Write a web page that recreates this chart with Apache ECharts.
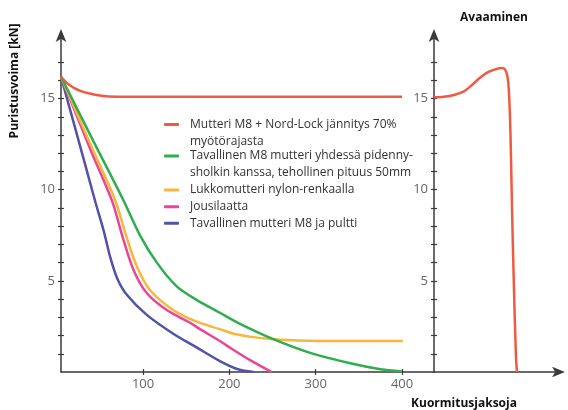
<!DOCTYPE html>
<html><head><meta charset="utf-8">
<script src="https://cdn.jsdelivr.net/npm/echarts@6/dist/echarts.min.js"></script>
<style>html,body{margin:0;padding:0;background:#fff}#c{width:568px;height:410px}</style>
</head><body><div id="c"></div>
<script>
// ---- data ----
const seriesNames = [
  'Mutteri M8 + Nord-Lock jännitys 70% myötörajasta',
  'Tavallinen M8 mutteri yhdessä pidennysholkin kanssa, tehollinen pituus 50mm',
  'Lukkomutteri nylon-renkaalla',
  'Jousilaatta',
  'Tavallinen mutteri M8 ja pultti'
];
const legendLabels = [
  'Mutteri M8 + Nord-Lock jännitys 70%\nmyötörajasta',
  'Tavallinen M8 mutteri yhdessä pidenny-\nsholkin kanssa, tehollinen pituus 50mm',
  'Lukkomutteri nylon-renkaalla',
  'Jousilaatta',
  'Tavallinen mutteri M8 ja pultti'
];
const xTickLabels = [100, 200, 300, 400];
const yTickLabels = [5, 10, 15];
const yMinorTicks = [1,2,3,4,5,6,7,8,9,10,11,12,13,14,15,16,17];

const nordLockX = [5, 12, 21, 29, 37, 48, 60, 80, 120, 400];
const nordLockY = [16.2, 15.85, 15.56, 15.4, 15.29, 15.18, 15.12, 15.1, 15.1, 15.1];
const sleeveX = [5, 40, 77, 96.5, 116, 139, 162, 189, 210, 251, 293.5, 340, 375, 400];
const sleeveY = [16.2, 12.9, 9.45, 7.5, 6.0, 4.7, 3.96, 3.25, 2.7, 1.8, 1.05, 0.48, 0.15, 0.03];
const nylonX = [5, 40, 67.5, 81, 92.7, 108, 135, 162, 189, 205, 230, 251, 290, 320, 401];
const nylonY = [16.2, 12.4, 9.45, 7.4, 5.8, 4.5, 3.4, 2.76, 2.35, 2.1, 1.9, 1.8, 1.72, 1.7, 1.7];
const springX = [5, 40, 64, 77, 89, 104, 127.5, 154.5, 166, 189, 197, 224, 249];
const springY = [16.2, 12.1, 9.4, 7.3, 5.6, 4.35, 3.4, 2.7, 2.35, 1.7, 1.45, 0.65, 0];
const plainX = [5, 30, 45, 55, 62, 70, 81, 104, 135, 162, 189, 210, 228];
const plainY = [16.2, 11.9, 9.3, 7.65, 6.3, 5.15, 4.25, 3.15, 2.1, 1.35, 0.6, 0.15, 0];
// opening (right panel), x in arbitrary panel units
const openX = [0, 10, 20, 30, 38, 46, 54, 62, 68, 71, 73.5, 75, 76.5, 78, 80, 82, 83];
const openY = [15.07, 15.1, 15.2, 15.4, 15.75, 16.15, 16.45, 16.62, 16.68, 16.6, 16.2, 15.3, 13, 9, 4.5, 0.8, 0];

const colors = ['#f15a40', '#2fae4e', '#f8b73a', '#ec4595', '#5252a8'];
// ---- chart ----
const zip = (xs, ys) => xs.map((x, i) => [x, ys[i]]);
const font = '"Open Sans", sans-serif';
const axisCol = '#3a3a3a';
const yMax = 18.6;

function yAxisPair(grid) {
  return [
    { type: 'value', gridIndex: grid, position: 'left', min: 0, max: yMax,
      axisLine: { show: true, lineStyle: { color: axisCol, width: 1.5 }, symbol: ['none', 'arrow'], symbolSize: [8, 13], symbolOffset: [0, 4] },
      axisTick: { show: true, length: 3, customValues: yMinorTicks, lineStyle: { color: axisCol, width: 1.2 } },
      axisLabel: { customValues: yTickLabels, color: '#666', fontSize: 13, fontFamily: font, margin: 6 },
      splitLine: { show: false } },
    { type: 'value', gridIndex: grid, position: 'left', offset: 0, min: 0, max: yMax,
      axisLine: { show: false },
      axisTick: { show: true, inside: true, length: 3, customValues: yMinorTicks, lineStyle: { color: axisCol, width: 1.2 } },
      axisLabel: { show: false }, splitLine: { show: false } }
  ];
}

const series = [
  { x: nordLockX, y: nordLockY },
  { x: sleeveX, y: sleeveY },
  { x: nylonX, y: nylonY },
  { x: springX, y: springY },
  { x: plainX, y: plainY }
].map((s, i) => ({
  name: seriesNames[i], type: 'line', xAxisIndex: 0, yAxisIndex: 0,
  data: zip(s.x, s.y), showSymbol: false, smooth: 0.3,
  lineStyle: { color: colors[i], width: 2.5 }, itemStyle: { color: colors[i] }, z: 5 - i
}));
series.push({
  name: seriesNames[0], type: 'line', xAxisIndex: 2, yAxisIndex: 2,
  data: zip(openX, openY), showSymbol: false, smooth: 0.3,
  lineStyle: { color: colors[0], width: 2.5 }, itemStyle: { color: colors[0] }
});

const LH = 16.6;
const legendIconY = [124.5, 156, 190, 206.7, 223.3];
const legends = legendLabels.map((lab, i) => {
  const multi = lab.indexOf('\n') >= 0;
  return {
    show: true, orient: 'vertical', left: 164, top: legendIconY[i] - (multi ? 1.5 * LH : 0.5 * LH), padding: 0,
    data: [{ name: seriesNames[i], icon: 'roundRect', itemStyle: { color: colors[i] } }],
    itemWidth: 15, itemHeight: 3, selectedMode: false,
    formatter: () => (multi ? '\n' + lab : lab),
    textStyle: { color: '#333', fontSize: 12, fontFamily: font, lineHeight: LH, padding: [0, 0, 0, 6] }
  };
});

const option = {
  animation: false,
  backgroundColor: '#fff',
  grid: [
    { left: 61, top: 33, width: 373, height: 339 },
    { left: 434, top: 33, width: 127, height: 339 }
  ],
  xAxis: [
    { type: 'value', gridIndex: 0, min: 5, max: 437,
      axisLine: { show: true, onZero: false, lineStyle: { color: axisCol, width: 1.5 } },
      axisTick: { show: true, length: 3, customValues: xTickLabels, lineStyle: { color: axisCol, width: 1.2 } },
      axisLabel: { customValues: xTickLabels, color: '#666', fontSize: 13, fontFamily: font, margin: 6 },
      splitLine: { show: false } },
    { type: 'value', gridIndex: 0, min: 5, max: 437, position: 'bottom', offset: 0,
      axisLine: { show: false },
      axisTick: { show: true, inside: true, length: 3, customValues: xTickLabels, lineStyle: { color: axisCol, width: 1.2 } },
      axisLabel: { show: false }, splitLine: { show: false } },
    { type: 'value', gridIndex: 1, min: 0, max: 127,
      axisLine: { show: true, onZero: false, lineStyle: { color: axisCol, width: 1.5 }, symbol: ['none', 'arrow'], symbolSize: [8, 13], symbolOffset: [0, 4] },
      axisTick: { show: false }, axisLabel: { show: false }, splitLine: { show: false } }
  ],
  yAxis: [...yAxisPair(0), ...yAxisPair(1)],
  legend: legends,
  series: series,
  graphic: [
    { type: 'text', x: 15, y: 81, rotation: Math.PI / 2,
      style: { text: 'Puristusvoima [kN]', font: 'bold 12px ' + font, fill: '#111', align: 'center', verticalAlign: 'middle' } },
    { type: 'text', x: 494, y: 18,
      style: { text: 'Avaaminen', font: 'bold 12px ' + font, fill: '#111', align: 'center', verticalAlign: 'middle' } },
    { type: 'text', x: 464, y: 404,
      style: { text: 'Kuormitusjaksoja', font: 'bold 12px ' + font, fill: '#111', align: 'center', verticalAlign: 'middle' } }
  ]
};
const chart = echarts.init(document.getElementById('c'), null, { renderer: 'canvas' });
chart.setOption(option);
</script></body></html>
